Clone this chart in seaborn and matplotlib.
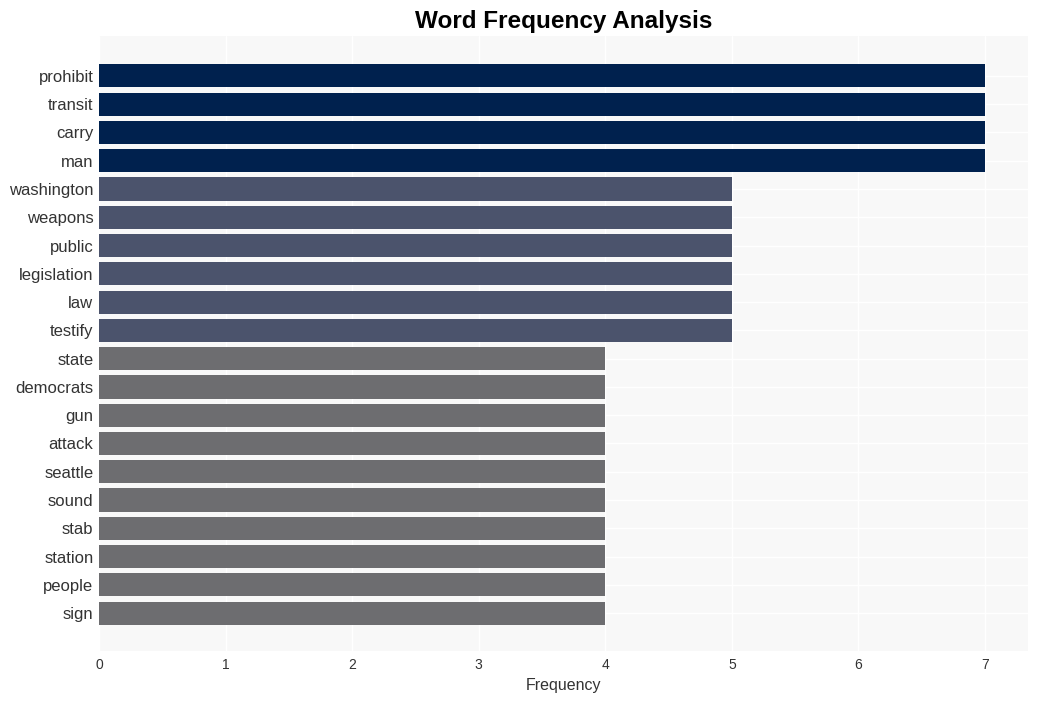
import matplotlib
matplotlib.use("Agg")
import matplotlib.pyplot as plt
import seaborn as sns
import pandas as pd

words = ["prohibit", "transit", "carry", "man", "washington", "weapons", "public",
         "legislation", "law", "testify", "state", "democrats", "gun", "attack",
         "seattle", "sound", "stab", "station", "people", "sign"]
freqs = [7, 7, 7, 7, 5, 5, 5, 5, 5, 5, 4, 4, 4, 4, 4, 4, 4, 4, 4, 4]
color_map = {7: "#00214e", 5: "#4b536c", 4: "#6d6d70"}

df = pd.DataFrame({"word": words, "freq": freqs})
df["grp"] = df["freq"].astype(str)

sns.set_theme(style="darkgrid", rc={
    "axes.facecolor": "#f8f8f8",
    "grid.color": "white",
    "grid.linewidth": 1.0,
})
plt.rcParams["font.family"] = ["Liberation Sans", "DejaVu Sans"]

fig, ax = plt.subplots(figsize=(10.38, 7.01), dpi=100)
sns.barplot(data=df, y="word", x="freq", hue="grp",
            palette={str(k): v for k, v in color_map.items()},
            dodge=False, legend=False, width=0.82, saturation=1,
            linewidth=0, ax=ax)

ax.set_axisbelow(True)
ax.xaxis.grid(True, color="white", linewidth=1.0)
ax.yaxis.grid(True, color="white", linewidth=1.0)
ax.set_xlim(0, 7.34)
ax.set_ylim(20.34, -1.41)
ax.set_xticks(range(0, 8))
ax.set_xlabel("Frequency", fontsize=11.5, color="#333333")
ax.set_ylabel("")
ax.set_title("Word Frequency Analysis", fontsize=17.5, fontweight="bold", color="black", pad=6)
ax.tick_params(axis="y", labelsize=12, colors="#333333", length=0, pad=4)
ax.tick_params(axis="x", labelsize=10, colors="#333333", length=0, pad=5)
for s in ax.spines.values():
    s.set_visible(False)

fig.subplots_adjust(left=0.0954, right=0.9904, top=0.9486, bottom=0.0713)
fig.savefig("out.png", dpi=100)
